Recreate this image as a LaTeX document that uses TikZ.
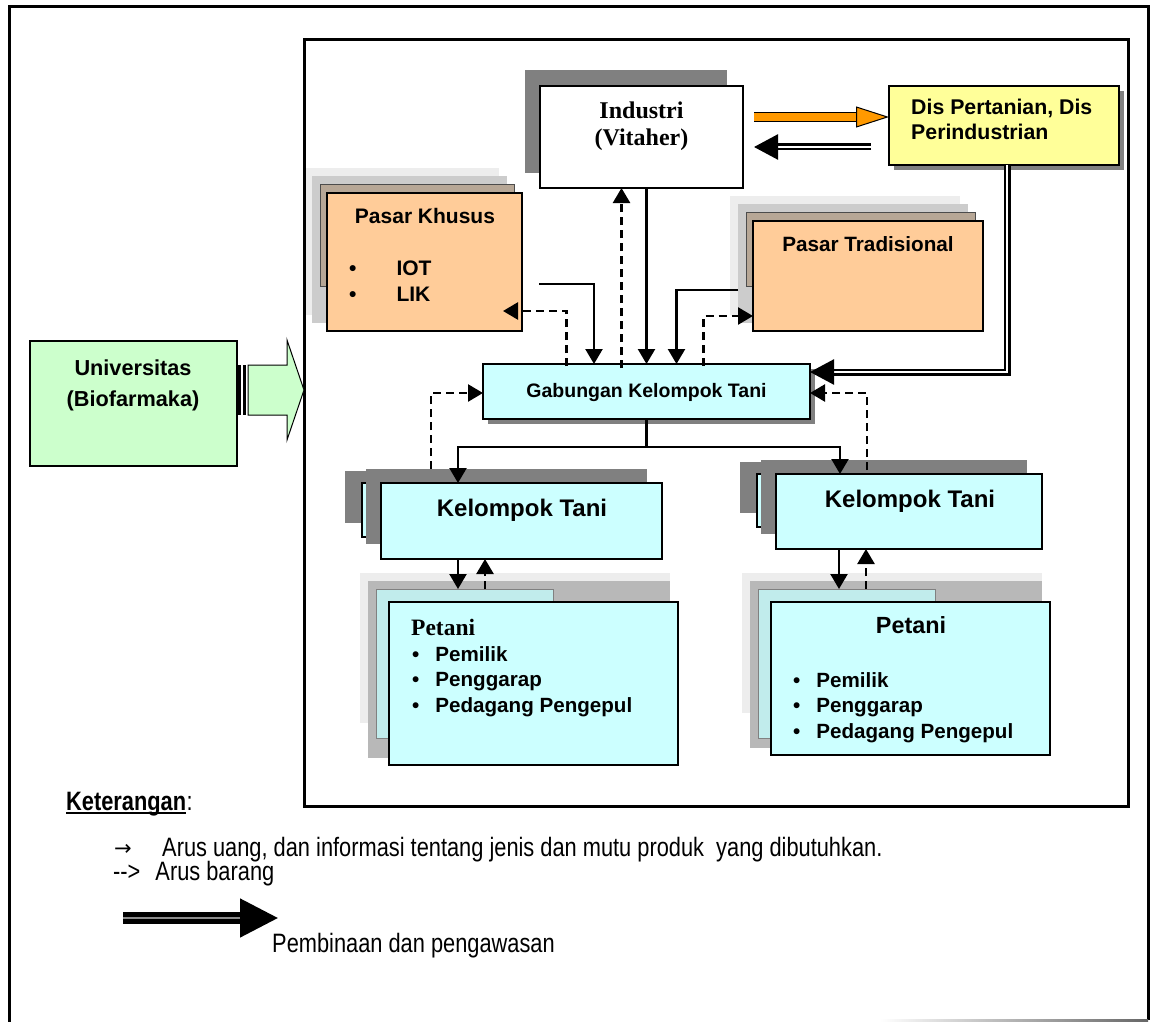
\documentclass[tikz,border=0pt]{standalone}
\usepackage{fontspec}
\setmainfont{Liberation Sans}
\newfontfamily\serifb{Liberation Serif}
\newfontfamily\sempit[FakeStretch=0.82]{Liberation Sans}
\newfontfamily\simbol{DejaVu Sans}
\usetikzlibrary{arrows.meta,backgrounds,calc}
\definecolor{persik}{HTML}{FFCC99}
\definecolor{kuning}{HTML}{FFFF99}
\definecolor{biru}{HTML}{CCFFFF}
\definecolor{hijau}{HTML}{CCFFCC}
\definecolor{oranye}{HTML}{FF9900}
\definecolor{bayang}{HTML}{808080}
\definecolor{coklat}{HTML}{B7A796}
\newcommand{\ukuran}[2]{\fontsize{#1}{#2}\selectfont}
\tikzset{
  kotak/.style={draw,line width=1.5pt,inner sep=0pt,outer sep=0pt},
  teks/.style={inner sep=0pt,anchor=base},
  uang/.style={line width=2.3pt,->},
  barang/.style={line width=2.5pt,dash pattern=on 8pt off 5pt,->},
  bina/.style={line width=2.5pt,double=white,double distance=2pt,-{Triangle[length=24pt,width=25pt]}},
  oranyepanah/.style={draw=black,line width=1pt,double=oranye,double distance=8pt,
    -{Triangle[length=33pt,width=21pt,fill=oranye,line width=1pt]}},
}
% lapisan di belakang kotak pasar
\newcommand{\lapispasar}[1]{%
  \fill[black!7] ($(#1.north west)+(-23,-25)$) rectangle ($(#1.south east)+(-23,-16)$);
  \fill[black!20] ($(#1.north west)+(-15,-17)$) rectangle ($(#1.south east)+(-15,-8)$);
  \filldraw[coklat,draw=black!70,line width=1pt] ($(#1.north west)+(-7,-9)$) rectangle ($(#1.south east)+(-8,-45)$);
}
% lapisan di belakang kotak petani
\newcommand{\lapispetani}[1]{%
  \fill[black!7] ($(#1.north west)+(-29,-29)$) rectangle ($(#1.south east)+(-8,-42)$);
  \fill[black!28] ($(#1.north west)+(-21,-21)$) rectangle ($(#1.south east)+(-8,-7)$);
  \filldraw[biru!85!gray,draw=black!50,line width=1pt] ($(#1.north west)+(-13,-13)$) rectangle ($(#1.north west)+(164,136)$);
}
% bayangan kelompok tani
\newcommand{\lapiskt}[1]{%
  \fill[bayang] ($(#1.north west)+(-36,-12)$) rectangle ($(#1.south east)+(-15,-36)$);
  \filldraw[biru,draw=black,line width=1.5pt] ($(#1.north west)+(-19,0)$) rectangle ($(#1.south west)+(0,-22)$);
  \fill[bayang] ($(#1.north west)+(-15,-14)$) rectangle ($(#1.south east)+(-15,-15)$);
}
\begin{document}
\begin{tikzpicture}[x=1pt,y=-1pt,>={Triangle[length=15pt,width=17pt]}]
\useasboundingbox (0,0) rectangle (1154,1022);
% bingkai
\draw[line width=3pt] (9,1022) -- (9,7) -- (1148,7) -- (1148,1020);
\shade[left color=white,right color=black!60] (880,1019) rectangle (1148,1021);
\node[kotak,line width=3pt,minimum width=824,minimum height=766] (sistem) at (716,423) {};

% kotak
\node[kotak,fill=white,minimum width=203,minimum height=102] (ind) at (641.5,137) {};
\node[kotak,fill=kuning,minimum width=230,minimum height=79] (ds) at (1004,125.5) {};
\node[kotak,fill=persik,minimum width=195,minimum height=138] (pk) at (424.5,262) {};
\node[kotak,fill=persik,minimum width=230,minimum height=110] (pt) at (868,276) {};
\node[kotak,fill=biru,minimum width=327,minimum height=55] (gkt) at (646.5,391.5) {};
\node[kotak,fill=biru,minimum width=281,minimum height=76] (kt1) at (521.5,521) {};
\node[kotak,fill=biru,minimum width=266,minimum height=75] (kt2) at (909,511.5) {};
\node[kotak,fill=biru,minimum width=289,minimum height=163] (pet1) at (533.5,683.5) {};
\node[kotak,fill=biru,minimum width=279,minimum height=153] (pet2) at (910.5,678.5) {};
\node[kotak,fill=hijau,minimum width=207,minimum height=125] (univ) at (133.5,403.5) {};

\begin{scope}[on background layer]
  \fill[white] (0,0) rectangle (1154,1022);
  \fill[bayang] ($(ind.north west)+(-15,-16)$) rectangle ($(ind.south east)+(-16,-15)$);
  \fill[bayang] ($(ds.north west)+(5,5)$) rectangle ($(ds.south east)+(5,5)$);
  \fill[bayang] ($(gkt.north west)+(5,5)$) rectangle ($(gkt.south east)+(5,5)$);
  \lapispasar{pk}
  \lapispasar{pt}
  \lapiskt{kt1}
  \lapiskt{kt2}
  \lapispetani{pet1}
  \lapispetani{pet2}
\end{scope}

% teks (base = baris terakhir)
\node[teks,font=\serifb\bfseries\ukuran{24}{27},align=center] (ind-teks) at (641.5,146) {Industri\\(Vitaher)};
\node[teks,anchor=base west,font=\bfseries\ukuran{21.3}{25},align=left] (ds-teks) at (911,140) {Dis Pertanian, Dis\\Perindustrian};
\node[teks,font=\bfseries\ukuran{21}{26}] (pk-teks) at (425,223) {Pasar Khusus};
\node[teks,anchor=base west,font=\bfseries\ukuran{21}{26},align=left] (pk-isi) at (349,301) {\textbullet\hspace{40pt}IOT\\\textbullet\hspace{40pt}LIK};
\node[teks,font=\bfseries\ukuran{20.7}{25}] (pt-teks) at (868,251) {Pasar Tradisional};
\node[teks,font=\bfseries\ukuran{19.5}{23}] (gkt-teks) at (646.5,397) {Gabungan Kelompok Tani};
\node[teks,font=\bfseries\ukuran{24}{28}] (kt1-teks) at (522,516) {Kelompok Tani};
\node[teks,font=\bfseries\ukuran{24}{28}] (kt2-teks) at (910,507) {Kelompok Tani};
\node[teks,anchor=base west,font=\serifb\bfseries\ukuran{23.5}{26}] (pet1-teks) at (411,635) {Petani};
\node[teks,anchor=base west,font=\bfseries\ukuran{20.6}{25.5},align=left] (pet1-isi) at (412,712) {\textbullet\hspace{16pt}Pemilik\\\textbullet\hspace{16pt}Penggarap\\\textbullet\hspace{16pt}Pedagang Pengepul};
\node[teks,font=\bfseries\ukuran{23.4}{27}] (pet2-teks) at (911,633) {Petani};
\node[teks,anchor=base west,font=\bfseries\ukuran{20.6}{25.5},align=left] (pet2-isi) at (793,738) {\textbullet\hspace{16pt}Pemilik\\\textbullet\hspace{16pt}Penggarap\\\textbullet\hspace{16pt}Pedagang Pengepul};
\node[teks,font=\bfseries\ukuran{21.7}{31},align=center] (univ-teks) at (133,406) {Universitas\\(Biofarmaka)};

% universitas ke sistem
\coordinate (ua) at ($(univ.east)+(0,-13.5)$);
\draw[fill=hijau,line width=1pt] ($(ua)+(11,-25)$) -- ($(ua)+(50,-25)$) -- ($(ua)+(50,-50)$) -- (sistem.west |- ua)
  -- ($(ua)+(50,50)$) -- ($(ua)+(50,25)$) -- ($(ua)+(11,25)$) -- cycle;
\fill ($(ua)+(0,-25)$) rectangle ($(ua)+(4,25)$);
\fill ($(ua)+(6,-25)$) rectangle ($(ua)+(9,25)$);

% industri dan dinas
\draw[oranyepanah] ($(ind.east)+(11,-20)$) -- ($(ds.west)+(0,-8.5)$);
\draw[bina] ($(ds.west)+(-18,21.5)$) -- ($(ind.east)+(11,10)$);
\draw[bina] ($(ds.south)+(3,0)$) |- ($(gkt.east)+(0,-19.5)$);

% arus uang
\draw[uang] ($(pk.east)+(17,22)$) -| ($(gkt.north)+(-52.5,0)$);
\draw[uang] ($(ind.south)+(5,0)$) -- (gkt.north);
\draw[uang] ($(pt.west)+(-15,14)$) -| ($(gkt.north)+(30,0)$);
\coordinate (cabang) at ($(gkt.south)+(0,28)$);
\draw[uang] (gkt.south) -- (cabang) -| ($(kt1.north)+(-63.5,0)$);
\draw[uang] (cabang) -| ($(kt2.north)+(-69,0)$);
\draw[uang] ($(kt1.south)+(-63.5,0)$) -- ($(pet1.north)+(-75.5,-13)$);
\draw[uang] ($(kt2.south)+(-70,0)$) -- ($(pet2.north)+(-71.5,-13)$);

% arus barang
\draw[barang] ($(gkt.north)+(-80,2)$) |- ($(pk.east)+(-19,49)$);
\draw[barang] ($(gkt.north)+(-25,4)$) -- ($(ind.south)+(-20,0)$);
\draw[barang] ($(gkt.north)+(57,2)$) |- ($(pt.west)+(0,40)$);
\draw[barang] ($(kt1.north)+(-90.5,-14)$) |- ($(gkt.west)+(0,1.5)$);
\draw[barang] ($(kt2.north)+(-42,-4)$) |- ($(gkt.east)+(0,1.5)$);
\draw[barang] ($(pet1.north)+(-48.5,-13)$) -- ($(kt1.south)+(-36.5,0)$);
\draw[barang] ($(pet2.north)+(-44.5,-13)$) -- ($(kt2.south)+(-43,0)$);

% keterangan
\node[teks,anchor=base west,font=\sempit\bfseries\ukuran{26.6}{30}] (ket) at (66,810) {Keterangan};
\node[teks,anchor=base west,font=\sempit\ukuran{26.6}{30}] (ket-titik) at (ket.base east) {:};
\draw[line width=1.5pt] ($(ket.base west)+(0,3)$) -- ($(ket.base east)+(0,3)$);
\node[teks,anchor=base west,font=\simbol\ukuran{21}{24}] (ket-panah) at (114,855) {→};
\node[teks,anchor=base west,font=\sempit\ukuran{26.6}{30}] (ket-uang) at (162,856) {Arus uang, dan informasi tentang jenis dan mutu produk\ \ yang dibutuhkan.};
\node[teks,anchor=base west,font=\sempit\ukuran{26.6}{30}] (ket-barang) at (113,880) {-{}-{}>\hspace{15pt}Arus barang};
\coordinate (lg1) at (123,918);
\coordinate (lg2) at (278,918);
\draw[line width=5pt,double=black!45,double distance=1.5pt,-{Triangle[length=38pt,width=38pt]}] (lg1) -- (lg2);
\node[teks,anchor=base west,font=\sempit\ukuran{26.6}{30}] (ket-bina) at (272,952) {Pembinaan dan pengawasan};
\end{tikzpicture}
\end{document}
